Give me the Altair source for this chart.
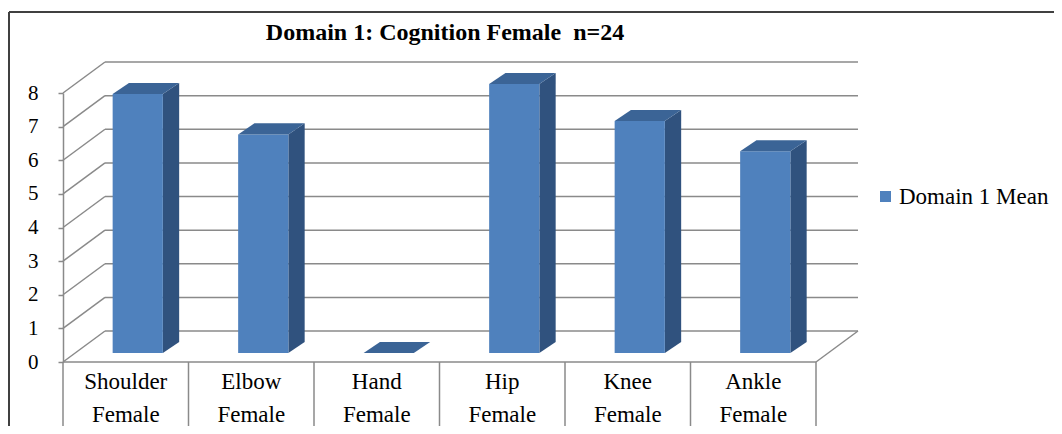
import altair as alt
import pandas as pd

# ---- data ----
categories = ["Shoulder Female", "Elbow Female", "Hand Female",
              "Hip Female", "Knee Female", "Ankle Female"]
means = [7.7, 6.5, 0.0, 8.0, 6.9, 6.0]
series_name = "Domain 1 Mean"
y_ticks = [0, 1, 2, 3, 4, 5, 6, 7, 8]
title_text = "Domain 1: Cognition Female\u00a0 n=24"

# ---- layout / style ----
W, H = 753, 269
FONT = "Liberation Serif"
FRONT = "#4F81BD"
SIDE = "#30527E"
TOP = "#3B6496"
GRID = "#8A8A8A"
BAR_LO, BAR_HI = 0.3, 0.7          # bar extent inside a category
DX, DY = 0.13, 0.33                # bar depth (category units, value units)
BOX, BOY = 12, -9                  # bar plane offset (px)
WOX, WOY = 42, -31                 # back wall offset (px)

n = len(categories)
xs = alt.Scale(domain=[0, n], nice=False, zero=False)
ys = alt.Scale(domain=[0, max(y_ticks)], nice=False, zero=False)
YAX = alt.Axis(values=y_ticks, title=None, grid=False)

bars = pd.DataFrame({"i": list(range(n)), "name": categories, "v": means})
bars["x0"] = bars["i"] + BAR_LO
bars["x1"] = bars["i"] + BAR_HI
bars["lo"] = 0.0
bars["series"] = series_name
bars["xc"] = bars["i"] + 0.5

side_rows, top_rows = [], []
for rec in bars.to_dict("records"):
    nm, v, x0, x1 = rec["name"], rec["v"], rec["x0"], rec["x1"]
    side_rows.append({"name": nm, "x": x1, "lo": 0.0, "hi": v})
    side_rows.append({"name": nm, "x": x1 + DX, "lo": DY, "hi": v + DY})
    top_rows.append({"name": nm, "x": x0, "lo": v, "hi": v})
    top_rows.append({"name": nm, "x": x0 + DX, "lo": v, "hi": v + DY})
    top_rows.append({"name": nm, "x": x1, "lo": v, "hi": v + DY})
    top_rows.append({"name": nm, "x": x1 + DX, "lo": v + DY, "hi": v + DY})
side = pd.DataFrame(side_rows)
top = pd.DataFrame(top_rows)

grid = pd.DataFrame({"v": y_ticks, "xa": 0, "xb": n})
floor_right = pd.DataFrame({"xa": [n], "v": [0]})
seps = pd.DataFrame({"k": list(range(n + 1))})
one = pd.DataFrame({"t": [title_text]})

# back wall gridlines
back = alt.Chart(grid).mark_rule(color=GRID, strokeWidth=1.5,
                                 xOffset=WOX, x2Offset=WOX, yOffset=WOY, y2Offset=WOY).encode(
    x=alt.X("xa:Q", scale=xs, axis=None), x2="xb:Q",
    y=alt.Y("v:Q", scale=ys, axis=YAX), y2="v:Q")

# side wall diagonals
diag = alt.Chart(grid).mark_rule(color=GRID, strokeWidth=1.5,
                                 x2Offset=WOX, y2Offset=WOY).encode(
    x=alt.X("xa:Q", scale=xs, axis=None), x2="xa:Q",
    y=alt.Y("v:Q", scale=ys, axis=YAX), y2="v:Q")

# floor right edge
fr = alt.Chart(floor_right).mark_rule(color=GRID, strokeWidth=1.5,
                                      x2Offset=WOX, y2Offset=WOY).encode(
    x=alt.X("xa:Q", scale=xs, axis=None), x2="xa:Q",
    y=alt.Y("v:Q", scale=ys, axis=YAX), y2="v:Q")

# floor front edge
ff = alt.Chart(grid[grid.v == 0]).mark_rule(color=GRID, strokeWidth=1.5).encode(
    x=alt.X("xa:Q", scale=xs, axis=None), x2="xb:Q",
    y=alt.Y("v:Q", scale=ys, axis=YAX), y2="v:Q")

# category table separators
sep = alt.Chart(seps).mark_rule(color=GRID, strokeWidth=1.5).encode(
    x=alt.X("k:Q", scale=xs, axis=None),
    y=alt.value(H), y2=alt.value(H + 80))

# bar faces
front = alt.Chart(bars).mark_rect(xOffset=BOX, x2Offset=BOX, yOffset=BOY, y2Offset=BOY).encode(
    x=alt.X("x0:Q", scale=xs, axis=None), x2="x1:Q",
    y=alt.Y("lo:Q", scale=ys, axis=YAX), y2="v:Q",
    color=alt.Color("series:N", scale=alt.Scale(range=[FRONT]),
                    legend=alt.Legend(orient="none", legendX=811, legendY=92, title=None,
                                      labelFont=FONT, labelFontSize=23, labelColor="black",
                                      symbolType="square", symbolSize=121, symbolStrokeWidth=0,
                                      padding=0, labelOffset=2)))

side_l = alt.Chart(side).mark_area(color=SIDE, xOffset=BOX, yOffset=BOY, y2Offset=BOY).encode(
    x=alt.X("x:Q", scale=xs, axis=None),
    y=alt.Y("lo:Q", scale=ys, axis=YAX), y2="hi:Q", detail="name:N")

top_l = alt.Chart(top).mark_area(color=TOP, xOffset=BOX, yOffset=BOY, y2Offset=BOY).encode(
    x=alt.X("x:Q", scale=xs, axis=None),
    y=alt.Y("lo:Q", scale=ys, axis=YAX), y2="hi:Q", detail="name:N")

# category labels
labels = alt.Chart(bars).mark_text(font=FONT, fontSize=23, color="black", align="center",
                                   baseline="alphabetic", lineBreak=" ", lineHeight=33).encode(
    x=alt.X("xc:Q", scale=xs, axis=None), y=alt.value(H + 27), text="name:N")

# title
title = alt.Chart(one).mark_text(font=FONT, fontSize=24, fontWeight="bold", color="black",
                                 align="center", baseline="alphabetic").encode(
    x=alt.value(382), y=alt.value(-53), text="t:N")

# outer border
border_l = alt.Chart(one).mark_rule(color="#404040", strokeWidth=2).encode(
    x=alt.value(-54), y=alt.value(-81), y2=alt.value(H + 80))
border_t = alt.Chart(one).mark_rule(color="#404040", strokeWidth=2).encode(
    x=alt.value(-54), x2=alt.value(W + 300), y=alt.value(-81))

chart = alt.layer(back, diag, fr, ff, sep, side_l, front, top_l, labels, title,
                  border_l, border_t).properties(
    width=W, height=H,
    autosize=alt.AutoSizeParams(type="none"),
    padding={"left": 55, "top": 85, "right": 238, "bottom": 64},
    background="white",
).configure_view(stroke=None).configure_axisY(
    labelFont=FONT, labelFontSize=21, labelColor="black", tickColor=GRID,
    domainColor=GRID, tickSize=5, labelPadding=20, domainWidth=1.5, tickWidth=1.5)

chart.save("out.html", embed_options={"renderer": "svg", "actions": False})
